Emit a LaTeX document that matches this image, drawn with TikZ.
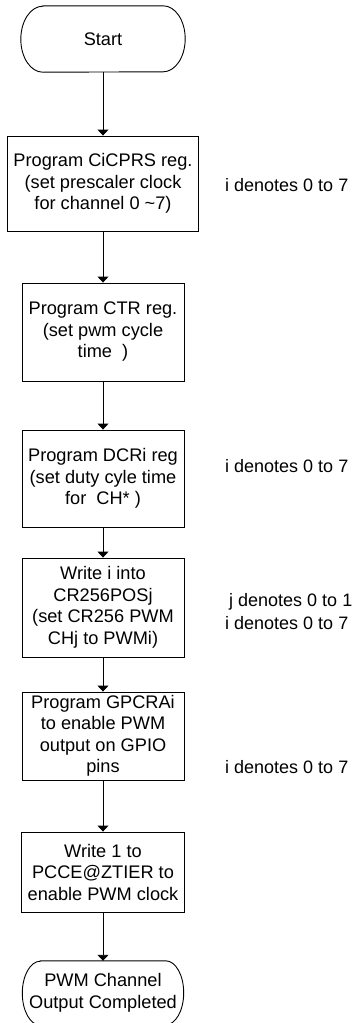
\documentclass[tikz,border=0pt]{standalone}
\usepackage{fontspec}
\setmainfont{Liberation Sans}
\usetikzlibrary{arrows.meta}
\newcommand\termshape[3]{%
  \draw[line width=0.9pt] ([xshift=#2pt]#1.north west) -- ([xshift=-#2pt]#1.north east)
    arc[start angle=90,end angle=-90,x radius=#2pt,y radius=#3pt]
    -- ([xshift=#2pt]#1.south west)
    arc[start angle=270,end angle=90,x radius=#2pt,y radius=#3pt] -- cycle;}
\begin{document}
\begin{tikzpicture}[x=1pt,y=-1pt,
  txt/.style={font=\fontsize{18.2}{21.5}\selectfont, align=center, inner sep=0pt},
  box/.style={txt, draw, line width=0.9pt},
  term/.style={txt, draw=none},
  note/.style={font=\fontsize{18}{21.5}\selectfont, inner sep=0pt, anchor=west},
  arr/.style={line width=0.9pt, -{Triangle[width=11pt,length=6pt]}}]
\useasboundingbox (0,0) rectangle (354,1023);
\node[term, minimum width=164pt, minimum height=66pt] (start) at (103,39) {Start};
\termshape{start}{22}{33}
\node[box, minimum width=191pt, minimum height=95pt] (b1) at (103,183.5)
  {Program CiCPRS reg.\\(set prescaler clock\\for channel 0 \textasciitilde7)};
\node[box, minimum width=162pt, minimum height=98pt] (b2) at (103,332)
  {Program CTR reg.\\(set pwm cycle\\time~~)};
\node[box, minimum width=162pt, minimum height=97pt] (b3) at (103,478.5)
  {Program DCRi reg\\(set duty cyle time\\for~~CH* )};
\node[box, minimum width=162pt, minimum height=99pt] (b4) at (103,607.5)
  {Write i into\\CR256POSj\\(set CR256 PWM\\CHj to PWMi)};
\node[box, minimum width=162pt, minimum height=88pt] (b5) at (103,736)
  {Program GPCRAi\\to enable PWM\\output on GPIO\\pins};
\node[box, minimum width=163pt, minimum height=80pt] (b6) at (103,872)
  {Write 1 to\\PCCE@ZTIER to\\enable PWM clock};
\node[term, minimum width=161pt, minimum height=64pt] (end) at (103,993)
  {PWM Channel\\Output Completed};
\termshape{end}{18}{32}
\node[note] (n1) at (225,185) {i denotes 0 to 7};
\node[note] (n3) at (225,466) {i denotes 0 to 7};
\node[note] (n4a) at (229,602) {j denotes 0 to 1};
\node[note] (n4b) at (225,623) {i denotes 0 to 7};
\node[note] (n5) at (225,767) {i denotes 0 to 7};
\draw[arr] (start.south) -- (b1.north);
\draw[arr] (b1.south) -- (b2.north);
\draw[arr] (b2.south) -- (b3.north);
\draw[arr] (b3.south) -- (b4.north);
\draw[arr] (b4.south) -- (b5.north);
\draw[arr] (b5.south) -- (b6.north);
\draw[arr] (b6.south) -- (end.north);
\end{tikzpicture}
\end{document}
